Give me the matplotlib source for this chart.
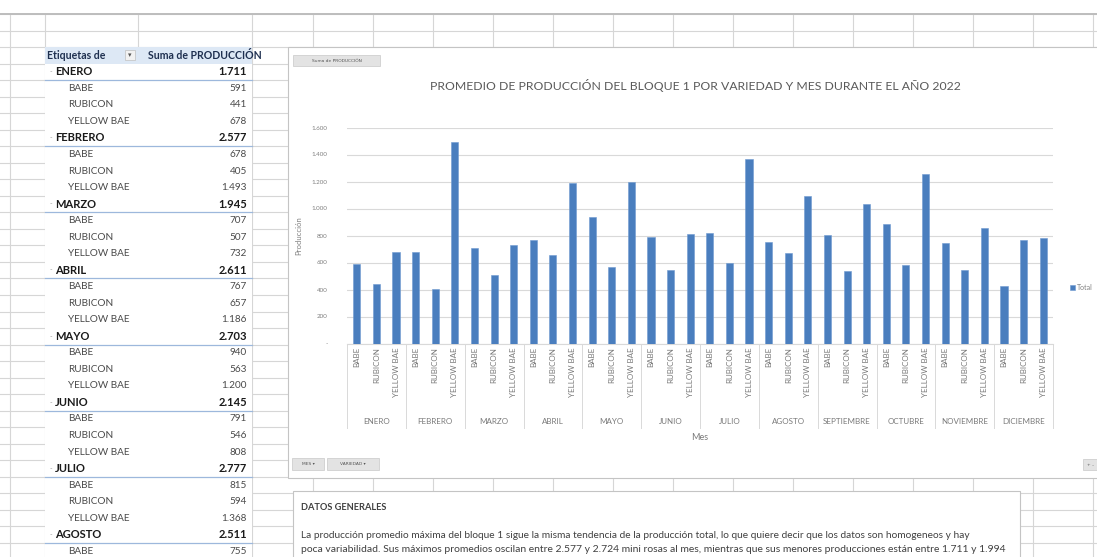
import matplotlib
matplotlib.use("Agg")
import matplotlib.pyplot as plt
from matplotlib.patches import Rectangle
from matplotlib.lines import Line2D
import matplotlib.transforms as mtransforms
import numpy as np

# ---------------- data ----------------
meses = ["ENERO", "FEBRERO", "MARZO", "ABRIL", "MAYO", "JUNIO", "JULIO",
         "AGOSTO", "SEPTIEMBRE", "OCTUBRE", "NOVIEMBRE", "DICIEMBRE"]
variedades = ["BABE", "RUBICON", "YELLOW BAE"]
babe = [591, 678, 707, 767, 940, 791, 815, 755, 801, 885, 744, 424]
rubicon = [441, 405, 507, 657, 563, 546, 594, 667, 540, 580, 542, 766]
yellow_bae = [678, 1493, 732, 1186, 1200, 808, 1368, 1089, 1035, 1257, 853, 785]
totales_tabla = [1711, 2577, 1945, 2611, 2703, 2145, 2777, 2511]
y_ticks = [0, 200, 400, 600, 800, 1000, 1200, 1400, 1600]
y_tick_labels = ["-", "200", "400", "600", "800", "1.000", "1.200", "1.400", "1.600"]
titulo = "PROMEDIO DE PRODUCCIÓN DEL BLOQUE 1 POR VARIEDAD Y MES DURANTE EL AÑO 2022"
texto_titulo = "DATOS GENERALES"
parrafo = [
    "La producción promedio máxima del bloque 1 sigue la misma tendencia de la producción total, lo que quiere decir que los datos son homogeneos y hay",
    "poca variabilidad. Sus máximos promedios oscilan entre 2.577 y 2.724 mini rosas al mes, mientras que sus menores producciones están entre 1.711 y 1.994",
]

W, H = 1097, 557
fig = plt.figure(figsize=(W / 100, H / 100), dpi=100)
fig.patch.set_facecolor("white")
renderer = fig.canvas.get_renderer()

bg = fig.add_axes([0, 0, 1, 1], zorder=0)
bg.set_xlim(0, W)
bg.set_ylim(H, 0)
bg.axis("off")

GRID = "#d6d6d6"
FONT = "Lato"


def fmt(v):
    return f"{v:,}".replace(",", ".")


def fit_text(ax, x, y, s, width_px, **kw):
    t = ax.text(x, y, s, **kw)
    bb = t.get_window_extent(renderer=renderer)
    t.set_fontsize(t.get_fontsize() * width_px / bb.width)
    return t


# ---------------- spreadsheet grid ----------------
row_h = 16.53
row_lines = []
y = 14.0
while y < H + 1:
    row_lines.append(y)
    y += row_h
col_lines = [10, 45, 138, 252] + list(range(313, W + 60, 60))
for yy in row_lines:
    bg.add_line(Line2D([0, W], [yy, yy], color=GRID, lw=0.8, zorder=1))
for xx in col_lines:
    bg.add_line(Line2D([xx, xx], [14, H], color=GRID, lw=0.8, zorder=1))
bg.add_line(Line2D([0, W], [14, 14], color="#bdbdbd", lw=1.4, zorder=1))

# ---------------- pivot table ----------------
tab_l, tab_r = 45, 252
tab_top = row_lines[2]
bg.add_patch(Rectangle((tab_l, tab_top), tab_r - tab_l, H - tab_top,
                       facecolor="white", edgecolor="none", zorder=2))
bg.add_patch(Rectangle((tab_l, tab_top), tab_r - tab_l, row_h,
                       facecolor="#dde8f5", edgecolor="none", zorder=2))
hdr_y = tab_top + row_h / 2
bg.text(47, hdr_y, "Etiquetas de", fontsize=7.6, fontweight="bold", color="#1f3050",
        family=FONT, va="center", ha="left", zorder=3)
bg.add_patch(Rectangle((125, hdr_y - 5), 10, 10, facecolor="#f2f2f2",
                       edgecolor="#c0c0c0", lw=0.5, zorder=3))
bg.text(130, hdr_y, "▾", fontsize=5, color="#555555", family="DejaVu Sans",
        va="center", ha="center", zorder=4)
bg.text(148, hdr_y, "Suma de PRODUCCIÓN", fontsize=7.6, fontweight="bold", color="#1f3050",
        family=FONT, va="center", ha="left", zorder=3)

r = 1
for i, (mes, tot) in enumerate(zip(meses, totales_tabla)):
    yc = tab_top + r * row_h + row_h / 2
    if yc > H + 8:
        break
    bg.text(51, yc, "-", fontsize=5, color="#a0a0a0", family=FONT, va="center", ha="center", zorder=3)
    bg.text(55, yc, mes, fontsize=8, fontweight="bold", color="#1a1a1a", family=FONT,
            va="center", ha="left", zorder=3)
    bg.text(247, yc, fmt(tot), fontsize=8, fontweight="bold", color="#1a1a1a", family=FONT,
            va="center", ha="right", zorder=3)
    bg.add_line(Line2D([tab_l, tab_r], [yc + row_h / 2, yc + row_h / 2], color="#9db8dc",
                       lw=0.9, zorder=3))
    r += 1
    for vname, vals in zip(variedades, [babe, rubicon, yellow_bae]):
        yc = tab_top + r * row_h + row_h / 2
        if yc > H + 8:
            break
        bg.text(68, yc, vname, fontsize=7.2, color="#4a4a4a",
                family=FONT, va="center", ha="left", zorder=3)
        bg.text(247, yc, fmt(vals[i]), fontsize=7.2, color="#4a4a4a", family=FONT,
                va="center", ha="right", zorder=3)
        r += 1

# ---------------- chart frame ----------------
bg.add_patch(Rectangle((288, 47), W - 288 + 5, 478 - 47, facecolor="white",
                       edgecolor="#c4c4c4", lw=0.8, zorder=5))


def button(x0, y0, w, h, s):
    bg.add_patch(Rectangle((x0, y0), w, h, facecolor="#e3e3e3", edgecolor="#c8c8c8",
                           lw=0.5, zorder=6))
    bg.text(x0 + w / 2, y0 + h / 2, s, fontsize=3.2, color="#555555", family="DejaVu Sans",
            va="center", ha="center", zorder=7)


button(293, 55, 87, 11, "Suma de PRODUCCIÓN")
button(292, 458, 32, 12, "MES ▾")
button(327, 458, 52, 12, "VARIEDAD ▾")
button(1083, 459, 16, 11, "+ –")

fit_text(bg, 695, 86, titulo, 526, fontsize=10, color="#5a5a5a", family=FONT,
         ha="center", va="center", zorder=7)

# ---------------- bar chart ----------------
px_l, px_r, px_t, px_b = 347, 1053, 127.5, 343.5
ax = fig.add_axes([px_l / W, (H - px_b) / H, (px_r - px_l) / W, (px_b - px_t) / H], zorder=2)
ax.patch.set_visible(False)

valores = []
etiquetas = []
for i in range(len(meses)):
    for vals, vname in zip([babe, rubicon, yellow_bae], variedades):
        valores.append(vals[i])
        etiquetas.append(vname)
xpos = np.arange(len(valores))
ax.bar(xpos, valores, width=0.36, color="#4a7ebe", edgecolor="#6f9ad0", linewidth=0.4,
       zorder=3, label="Total")
ax.set_xlim(-0.5, len(valores) - 0.5)
ax.set_ylim(0, 1600)
ax.set_yticks(y_ticks)
ax.set_yticklabels(y_tick_labels)
ax.yaxis.grid(True, color="#d9d9d9", lw=0.8)
ax.set_axisbelow(True)
for s in ["top", "right", "left"]:
    ax.spines[s].set_visible(False)
ax.spines["bottom"].set_color("#d9d9d9")
ax.spines["bottom"].set_linewidth(0.8)
ax.tick_params(axis="y", length=0, pad=14, labelsize=4.5, labelcolor="#808080")
ax.set_xticks(xpos)
ax.set_xticklabels(etiquetas, rotation=90, fontsize=5.8, color="#7a7a7a", family=FONT)
ax.tick_params(axis="x", length=0, pad=2.5)
for lab in ax.get_yticklabels():
    lab.set_family(FONT)
ax.set_ylabel("Producción", fontsize=5.6, color="#808080", family=FONT)
ax.yaxis.set_label_coords((302 - px_l) / (px_r - px_l), 0.5)

trans = mtransforms.blended_transform_factory(ax.transData, ax.transAxes)
y_sep = (px_b - 428) / (px_b - px_t)
y_mes = (px_b - 421) / (px_b - px_t)
for g in range(len(meses) + 1):
    xb = g * 3 - 0.5
    ax.add_line(Line2D([xb, xb], [0, y_sep], transform=trans, color="#d9d9d9", lw=0.7,
                       clip_on=False))
for g, mes in enumerate(meses):
    ax.text(g * 3 + 1, y_mes, mes, transform=trans, fontsize=5.8, color="#7a7a7a",
            family=FONT, ha="center", va="center", clip_on=False)
ax.text(0.5, (px_b - 437) / (px_b - px_t), "Mes", transform=ax.transAxes, fontsize=6.5,
        color="#7a7a7a", family=FONT, ha="center", va="center")

leg = fig.legend(loc="center left", bbox_to_anchor=(1064 / W, 1 - 287 / H), frameon=False,
                 handlelength=0.7, handleheight=0.7, handletextpad=0.3,
                 prop={"family": FONT, "size": 5})
for t in leg.get_texts():
    t.set_color("#808080")

# ---------------- text box ----------------
bg.add_patch(Rectangle((293, 491), 1020 - 293, 80, facecolor="white", edgecolor="#c4c4c4",
                       lw=0.8, zorder=5))
fit_text(bg, 301, 508, texto_titulo, 86, fontsize=6, fontweight="bold", color="#404040",
         family=FONT, ha="left", va="center", zorder=7)
fit_text(bg, 301, 535, parrafo[0], 672, fontsize=6, color="#404040", family=FONT,
         ha="left", va="center", zorder=7)
fit_text(bg, 301, 550, parrafo[1], 714, fontsize=6, color="#404040", family=FONT,
         ha="left", va="center", zorder=7)

fig.savefig("out.png", dpi=100, facecolor="white")
